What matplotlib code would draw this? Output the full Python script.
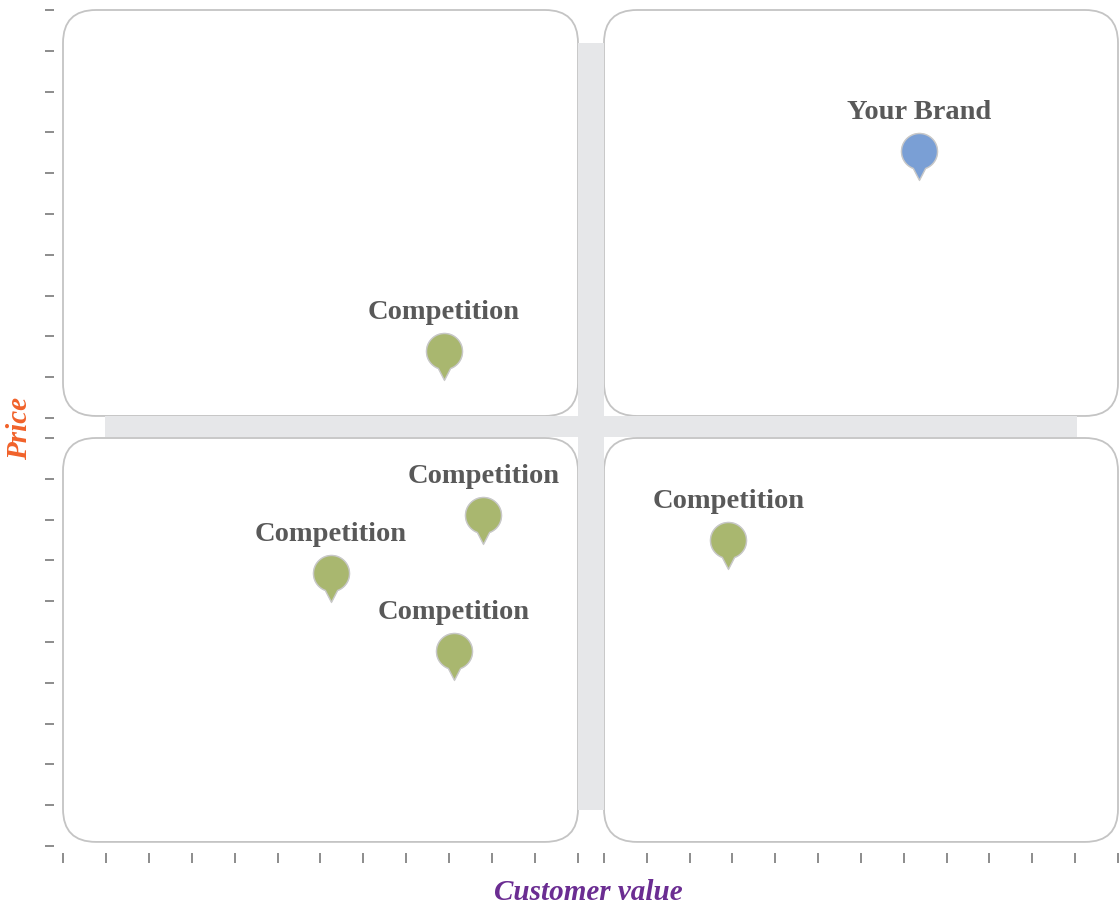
import numpy as np
import matplotlib
matplotlib.use('Agg')
import matplotlib.pyplot as plt
from matplotlib.patches import FancyBboxPatch, Rectangle
from matplotlib.path import Path

# Positioning map data (customer value on x, price on y)
labels = ['Your Brand', 'Competition', 'Competition', 'Competition', 'Competition', 'Competition']
customer_value = [19.35, 8.88, 9.79, 6.24, 9.11, 14.90]
price = [16.54, 11.64, 8.11, 6.69, 4.78, 7.50]
is_brand = [True, False, False, False, False, False]

x_half = 12   # each half of the x axis has 12 tick steps
y_half = 10   # each half of the y axis has 10 tick steps

BRAND_COLOR = '#7A9FD5'
COMP_COLOR = '#A9B76F'
TEXT_COLOR = '#595959'
TICK_COLOR = '#8c8c8c'
BOX_EDGE = '#c4c4c4'
CROSS_COLOR = '#E6E7E9'

plt.rcParams['font.family'] = ['Liberation Serif', 'DejaVu Serif']

W, H = 1120, 910
fig = plt.figure(figsize=(W / 100, H / 100), dpi=100)

# gray cross behind the four quadrants
fig.patches.append(Rectangle((105 / W, 1 - 437 / H), (1077 - 105) / W, 21 / H,
                             transform=fig.transFigure, facecolor=CROSS_COLOR,
                             edgecolor='none', zorder=0))
fig.patches.append(Rectangle((578 / W, 1 - 810 / H), 26 / W, (810 - 43) / H,
                             transform=fig.transFigure, facecolor=CROSS_COLOR,
                             edgecolor='none', zorder=0))

# pin marker: circle with a pointed tail, circle centred on the data point
ang = np.radians(np.linspace(-70, 250, 60))
verts = np.column_stack([np.cos(ang), np.sin(ang)])
verts = np.vstack([verts, [[0, -1.6]], verts[:1]])
codes = [Path.MOVETO] + [Path.LINETO] * (len(verts) - 2) + [Path.CLOSEPOLY]
pin = Path(verts, codes)

left_px = [63, 604]
width_px = [515, 514]
top_px = [10, 438]
height_px = 408
box_bottom = [0.005, 0.01]   # quadrant boxes sit a touch above the axis bottom

axes = {}
for row in range(2):
    for col in range(2):
        ax = fig.add_axes([left_px[col] / W, 1 - (top_px[row] + height_px) / H,
                           width_px[col] / W, height_px / H])
        ax.set_xlim(col * x_half, col * x_half + x_half)
        ax.set_ylim((1 - row) * y_half, (1 - row) * y_half + y_half)
        ax.patch.set_visible(False)
        for s in ax.spines.values():
            s.set_visible(False)
        ax.spines['left'].set_position(('outward', 6.5))
        ax.spines['bottom'].set_position(('outward', 5))
        if col == 0:
            ax.set_yticks(np.arange(ax.get_ylim()[0], ax.get_ylim()[1] + 1, 1))
        else:
            ax.set_yticks([])
        if row == 1:
            ax.set_xticks(np.arange(ax.get_xlim()[0], ax.get_xlim()[1] + 1, 1))
        else:
            ax.set_xticks([])
        ax.tick_params(axis='y', direction='out', length=6.5, width=1.4,
                       color=TICK_COLOR, labelleft=False)
        ax.tick_params(axis='x', direction='out', length=7, width=1.4,
                       color=TICK_COLOR, labelbottom=False)
        b0 = box_bottom[row]
        box = FancyBboxPatch((0, b0), 1, 1 - b0, boxstyle='round,pad=0,rounding_size=0.064',
                             mutation_aspect=width_px[col] / height_px,
                             transform=ax.transAxes, facecolor='white',
                             edgecolor=BOX_EDGE, linewidth=1.3, clip_on=False, zorder=1)
        ax.add_patch(box)
        axes[(row, col)] = ax

for name, xv, yv, brand in zip(labels, customer_value, price, is_brand):
    col = 0 if xv < x_half else 1
    row = 0 if yv >= y_half else 1
    ax = axes[(row, col)]
    color = BRAND_COLOR if brand else COMP_COLOR
    # soft shadow
    ax.plot(xv, yv, marker=pin, markersize=43, color='#9a9a9a', alpha=0.35,
            markeredgewidth=0, linestyle='none', zorder=3)
    ax.plot(xv, yv, marker=pin, markersize=41.5, markerfacecolor=color,
            markeredgecolor='#c8c8c8', markeredgewidth=1.0, linestyle='none', zorder=4)
    ax.annotate(name, (xv, yv), xytext=(0, 23), textcoords='offset points',
                ha='center', va='baseline', fontsize=20.5, fontweight='bold',
                color=TEXT_COLOR, zorder=5, annotation_clip=False)

fig.text(588 / W, 1 - 893 / H, 'Customer value', ha='center', va='center',
         fontsize=21, fontstyle='italic', fontweight='bold', color='#6B2D92')
fig.text(20 / W, 1 - 428 / H, 'Price', ha='center', va='center', rotation=90,
         fontsize=21, fontstyle='italic', fontweight='bold', color='#F1622A')

fig.savefig('out.png', dpi=100)
